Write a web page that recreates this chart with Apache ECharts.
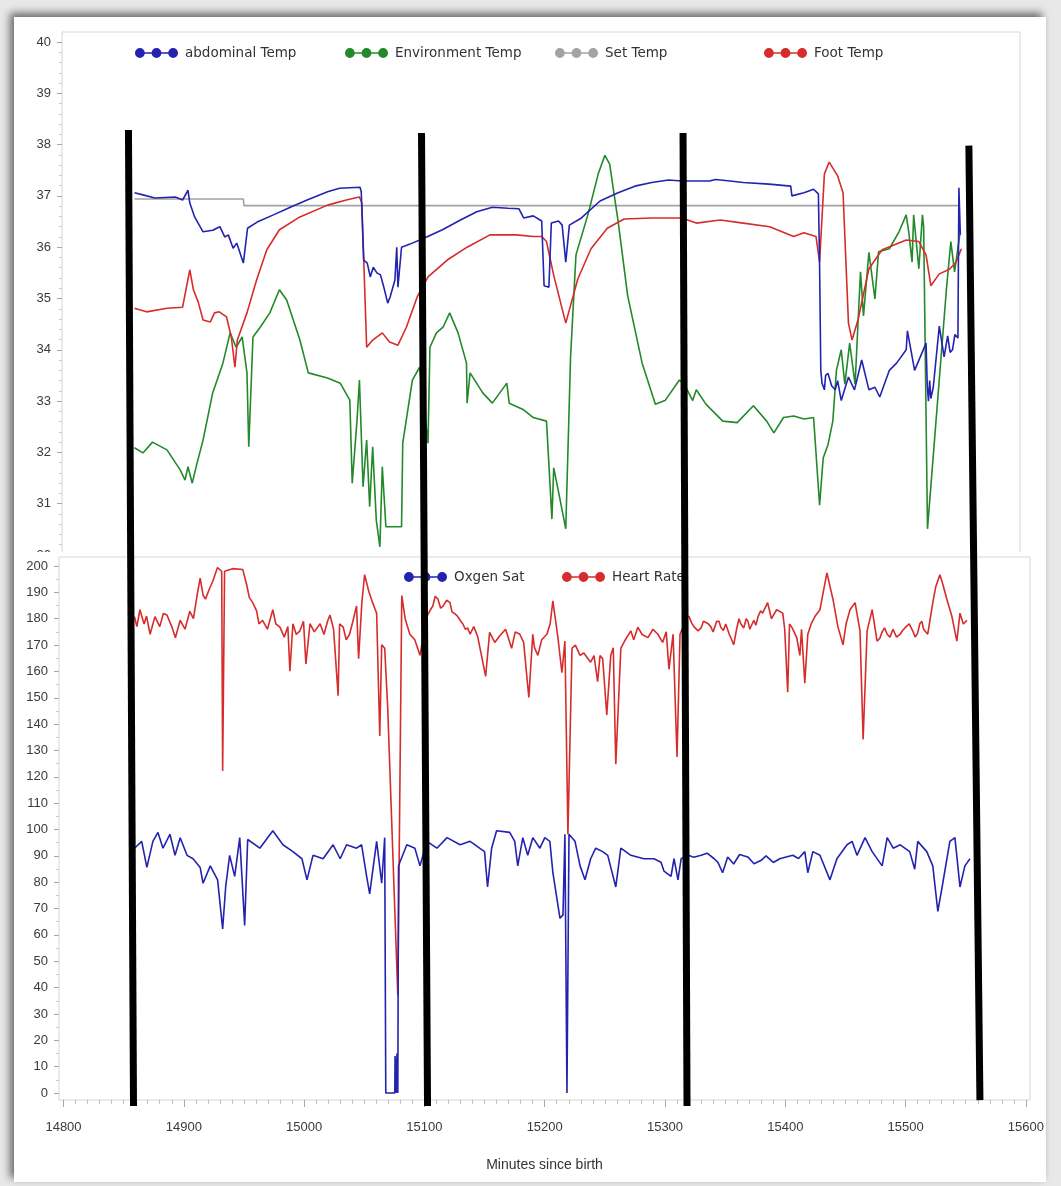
<!DOCTYPE html>
<html>
<head>
<meta charset="utf-8">
<title>Temperatures, oxygen saturation and heart rate</title>
<script src="https://cdn.jsdelivr.net/npm/echarts@6/dist/echarts.min.js"></script>
<style>
  html, body { margin: 0; padding: 0; background: #e6e6e6; }
  #chart { width: 1061px; height: 1186px; }
</style>
</head>
<body>
<div id="chart"></div>
<script>
// ---- readings: [minutes since birth, value] ----
const abdominalTemp = [
  [14859,37.06],[14866,37.02],[14876,36.96],[14893,36.98],[14899,36.92],[14903.5,37.11],[14905,36.86],
  [14909,36.59],[14916,36.30],[14924,36.33],[14930,36.40],[14934,36.20],[14937,36.24],[14941,35.98],
  [14944,36.08],[14949.5,35.69],[14953,36.37],[14961,36.49],[14974.5,36.63],[14988.5,36.78],[15002.5,36.92],
  [15019.5,37.08],[15029.5,37.15],[15046.5,37.17],[15047.5,37.08],[15049.5,35.75],[15052.5,35.69],[15055,35.42],
  [15057.5,35.61],[15060.5,35.50],[15063.5,35.46],[15066.5,35.20],[15069.5,34.91],[15071.5,35.03],[15075.5,35.36],
  [15077,36.0],[15078,35.22],[15081,36.0],[15088,36.06],[15100,36.18],[15115,36.34],[15130,36.53],
  [15143.5,36.69],[15156.5,36.78],[15169.5,36.76],[15178.5,36.75],[15182.5,36.57],[15190.5,36.61],[15197.5,36.51],
  [15199.5,35.25],[15203.5,35.22],[15205.5,36.47],[15211.5,36.51],[15214.5,36.43],[15217.5,35.71],[15220.5,36.43],
  [15230.5,36.57],[15246,36.90],[15261,37.06],[15275,37.19],[15289,37.26],[15303,37.31],[15314,37.29],
  [15337,37.29],[15342,37.32],[15354,37.29],[15365,37.26],[15386.5,37.23],[15404.5,37.19],[15405.5,37.0],
  [15415.5,37.06],[15423.5,37.13],[15427.5,37.04],[15428.5,35.65],[15429.5,33.6],[15430.5,33.35],[15432.5,33.22],
  [15433.5,33.5],[15435.5,33.54],[15438.5,33.3],[15441.5,33.22],[15443.5,33.4],[15446.5,33.01],[15452.5,33.47],
  [15457.5,33.22],[15463.5,33.8],[15469.5,33.22],[15474.5,33.27],[15478.5,33.08],[15486.5,33.6],[15492.5,33.74],
  [15500.5,34.0],[15501.5,34.37],[15507.5,33.6],[15517,34.13],[15518,33.3],[15519,33.0],[15520,33.4],
  [15521,33.05],[15523,33.27],[15528,34.46],[15532,33.86],[15535,34.27],[15537,33.95],[15539,34.0],
  [15541,34.3],[15543.5,34.23],[15544.3,37.16],[15545.5,36.24]
];
const environmentTemp = [
  [14859,32.09],[14866,31.99],[14874,32.2],[14886,32.05],[14897,31.66],[14901,31.46],[14903.5,31.72],
  [14907,31.40],[14911,31.79],[14916,32.24],[14924,33.16],[14932.5,33.74],[14938.5,34.33],[14943.5,34.05],
  [14948.5,34.25],[14952.5,33.55],[14954,32.11],[14957.5,34.25],[14963.5,34.44],[14971.5,34.72],[14979.5,35.17],
  [14985.5,34.97],[14996.5,34.19],[15003.5,33.55],[15019.5,33.45],[15030,33.35],[15038,33.02],[15040,31.40],
  [15044,32.63],[15046,33.41],[15049,31.33],[15052,32.24],[15054.5,30.94],[15057,32.11],[15060,30.68],
  [15063,30.16],[15065,31.72],[15068,30.55],[15081,30.55],[15082,32.18],[15090,33.41],[15096,33.66],
  [15103,32.18],[15104.6,34.05],[15110,34.33],[15115.5,34.44],[15121,34.72],[15128,34.33],[15135,33.74],
  [15135.5,32.96],[15138,33.55],[15148.5,33.16],[15156.5,32.96],[15168.5,33.35],[15170.5,32.96],[15182.5,32.83],
  [15190.5,32.68],[15201.5,32.61],[15206,30.70],[15207.5,31.70],[15211.5,31.23],[15217.5,30.51],[15221.5,33.86],
  [15226,35.85],[15236,36.64],[15244.5,37.43],[15250,37.79],[15254,37.62],[15261,36.51],
  [15269,35.05],[15281,33.74],[15292,32.94],[15300,33.01],[15312,33.41],[15316,33.33],[15323,33.01],
  [15326,33.22],[15334,32.94],[15348,32.61],[15360,32.58],[15373.5,32.91],[15384.5,32.61],[15390.5,32.38],
  [15398.5,32.68],[15407,32.71],[15415.5,32.65],[15423.5,32.68],[15428.5,30.97],[15431.5,31.89],[15435.5,32.15],
  [15439.5,32.61],[15442.5,33.6],[15446.5,34.0],[15449.5,33.33],[15453.5,34.13],[15458,33.33],[15462.5,35.52],
  [15465,34.66],[15469.5,35.9],[15474.5,34.99],[15477.5,35.91],[15486.5,35.97],[15494.5,36.30],[15500.5,36.63],
  [15502.6,36.30],[15505.4,35.71],[15506.7,36.63],[15511,35.58],[15514,36.63],[15515,36.4],
  [15518.2,30.51],[15534,35.2],[15537.6,36.11],[15540.7,35.52],[15545,36.24]
];
const setTemp = [
  [14859,36.94],[14949.5,36.94],[14950,36.81],[15545,36.81]
];
const footTemp = [
  [14859,34.81],[14869,34.74],[14886,34.81],[14899,34.83],[14905,35.56],[14908,35.17],[14912,34.93],
  [14916,34.58],[14922,34.54],[14925.5,34.72],[14929.5,34.74],[14935.5,34.64],[14939.5,34.25],[14942.5,33.66],
  [14944.5,34.19],[14952.5,34.72],[14960.5,35.36],[14969,35.95],[14979.5,36.34],[14996.5,36.59],[15019.5,36.82],
  [15035,36.92],[15046,36.98],[15048,36.86],[15052,34.05],[15057,34.19],[15065,34.33],[15071,34.15],
  [15078,34.09],[15085,34.44],[15094,35.03],[15103,35.42],[15119,35.75],[15135.5,36.0],[15154.5,36.24],
  [15176.5,36.24],[15190.5,36.21],[15197.5,36.21],[15201.5,36.11],[15207.5,35.45],[15217.5,34.52],[15227.5,35.38],
  [15238.5,35.97],[15252,36.37],[15266,36.55],[15289,36.57],[15314,36.57],[15326,36.47],[15346,36.53],
  [15365,36.47],[15387,36.40],[15407,36.21],[15415.5,36.28],[15425.5,36.21],[15428.5,35.71],
  [15432.5,37.43],[15436.5,37.66],[15443.5,37.39],[15448,37.06],[15452.5,34.52],[15455.5,34.19],[15460.5,34.59],
  [15469.5,35.58],[15480.5,35.95],[15500.5,36.14],[15511,36.11],[15517,35.85],[15521,35.25],[15528,35.48],
  [15536.5,35.57],[15542,35.71],[15546.4,35.97]
];
const oxygenSat = [
  [14859,92.9],[14865,95.5],[14869.3,85.6],[14874.3,95.5],[14878.5,98.9],[14882.7,92.9],[14888.5,98.2],
  [14892.7,90.2],[14897,96.9],[14902.7,90.2],[14907.7,88.9],[14913.6,85.6],[14916,79.6],[14922,86.2],
  [14928.1,80.9],[14932.3,62.3],[14934.8,78.2],[14938.1,90.2],[14942.3,82.2],[14946.5,96.9],[14950.6,63.6],
  [14953.1,96.2],[14963.2,92.9],[14974,99.5],[14982.4,94.2],[14990.7,91.6],[14998.2,88.9],
  [15002.4,80.9],[15007.4,90.2],[15015.8,88.9],[15024.1,94.2],[15030,88.9],[15035.3,94.2],
  [15043.6,92.9],[15047.8,94.2],[15052,82.2],[15054.5,75.6],[15060.3,95.5],[15064.5,79.6],[15067,96.9],
  [15067.9,0],[15075.4,0],[15075.6,14],[15076.5,0],[15077.2,15],[15077.9,0],[15078.5,86.2],
  [15079.6,87.6],[15085.4,94.2],[15092.1,92.9],[15096.3,86.2],[15102.1,95.5],[15110.4,92.9],
  [15118.8,96.9],[15129.7,94.2],[15138,95.5],[15145.9,92.9],[15150,91.6],[15152.5,78.2],[15155.9,92.9],
  [15160,99.5],[15170.9,98.9],[15175.1,95.5],[15177.6,86.2],[15181.8,96.9],[15185.9,90.2],
  [15190.1,96.9],[15196,92.9],[15200.1,96.9],[15204.3,95.5],[15206.8,83.6],[15212.7,66.3],
  [15215.2,67.6],[15216.8,98.2],[15218.5,0],[15220.2,98.2],[15225.2,95.5],[15229.4,86.2],[15233.5,80.9],
  [15238.2,88.9],[15242.4,92.9],[15248.2,91.6],[15252.4,90.2],[15259.1,78.2],[15263.3,92.9],
  [15271.6,90.2],[15282.5,88.9],[15290.8,88.9],[15296.7,87.6],[15299.2,84.2],[15305,82.2],
  [15307.5,88.9],[15310.8,80.9],[15313.4,88.9],[15319.2,90.2],[15324,89.5],[15330,90.2],[15335,91],
  [15340.9,88.9],[15344,87.5],[15347.9,83.6],[15352.1,89.6],[15357.1,86.9],[15362,90.5],[15368.8,89.6],
  [15374,87],[15379.7,88.2],[15384,90],[15390,87.5],[15395.4,88.9],[15400,89.5],
  [15406.2,90.2],[15411,89],[15416.2,91.6],[15418.7,83.6],[15422.9,91.6],[15428.8,90.2],[15437.1,80.9],
  [15442.9,88.9],[15451.3,94.2],[15455.5,95.5],[15459.6,90.2],[15466.3,96.9],[15472.2,91.6],[15480.5,86.2],
  [15484.7,96.9],[15489.7,92.9],[15495.5,94.2],[15503.4,91.6],[15507.6,84.9],[15510.1,95.5],
  [15517.6,91.6],[15522.6,86.2],[15526.8,68.9],[15530.9,79.6],[15536.8,95.5],[15541,96.9],
  [15545.2,78.2],[15549.3,86.2],[15553.5,88.9]
];
const heartRate = [
  [14859,180.8],[14861,177],[14863.5,183.4],[14867,178],[14869,181],[14872,174.1],[14876,180.8],
  [14880,177],[14883,182],[14886,181.4],[14890,177],[14893,172.8],[14897,179.4],[14901,176],
  [14905,182.8],[14908,180],[14911,188.8],[14913.6,195.4],[14916,189],[14918,187.4],[14921,191],
  [14924,194.1],[14928,199.4],[14931.5,198],[14932.3,122.2],[14933.9,198],[14940.5,199],[14949,198.7],
  [14952.3,192.8],[14954.5,188],[14957.3,186.1],[14960.5,183],[14962.5,178],[14965.5,179.4],[14969.5,176],
  [14974,183.4],[14976.5,178],[14979.9,176.8],[14983.5,173],[14986.5,177],[14988.2,160.1],[14990.7,178.1],
  [14993.5,174],[14996.5,175.4],[14999.5,179],[15001.5,162.8],[15004.9,178.1],[15008.5,175],[15013.3,178.1],
  [15016.5,174],[15019.5,179],[15021.5,181.4],[15024.5,176],[15028.3,150.8],[15029.5,178],[15032.5,176.8],
  [15035,172],[15037.8,174.1],[15040,178],[15043.6,184.8],[15045.3,164.8],[15048,186],[15050.3,196.7],
  [15054,190],[15057,186],[15060.3,182.1],[15062.9,135.5],[15064.5,170.1],[15067,168.8],
  [15069.5,146.2],[15077.9,37],[15081.2,188.8],[15084,180],[15087.9,174.1],[15092,172],
  [15096.3,166.1],[15102,180.8],[15104.5,183],[15107,184.8],[15109,188.5],[15111.3,187.4],[15113.5,184],
  [15115.5,184.8],[15118.5,187],[15121.3,186.1],[15123,182.5],[15125,182],[15127.5,181],[15129.7,179.4],
  [15132,178],[15134,176],[15136,176.5],[15138,174.1],[15141,177],[15144.2,173.4],[15150.9,158.1],
  [15154.2,174.8],[15158.5,171],[15162.5,173.4],[15167.5,176],[15172.5,168.8],[15175.5,175],[15179.3,174.1],
  [15182.5,171],[15186.8,150.1],[15190.1,174.1],[15191.5,169],[15194.3,166.1],[15197.5,172],[15201.8,174.1],
  [15204.5,178],[15206.8,186.8],[15211,172.8],[15214.3,159.5],[15216.8,171.5],[15219.3,98.2],
  [15222.7,168.8],[15225.5,170],[15229.4,166.1],[15232.5,167],[15238.2,163.5],[15241,166],[15244,156.1],
  [15246,166],[15248.2,164.8],[15251.6,143.5],[15254.9,166.1],[15257,169],[15259.1,124.8],
  [15263.3,168.8],[15267,172],[15271.6,175.4],[15274,172],[15277.4,176.8],[15281,174],[15285.8,172.8],
  [15290,176],[15294.1,174.1],[15298,171],[15301,175],[15303.3,160.8],[15306.7,174.1],[15310,127.5],
  [15312.5,174.1],[15316,178],[15318,181],[15320,180.8],[15322,178.5],[15324,177],[15327.5,175.4],
  [15330,176.5],[15332,179],[15335.9,178.1],[15338,177],[15340,175],[15343,179],[15345,179],
  [15346.3,176.8],[15348.5,175.5],[15350.5,178],[15353.5,174],[15355,172.5],[15357.1,170.1],[15359.5,176],
  [15361.5,180],[15363,178.1],[15365.5,176.5],[15367.5,180],[15369,179],[15370.5,176],[15373.8,179.4],
  [15375.5,177.5],[15377.5,181],[15379.5,183],[15381.2,182.1],[15385.3,186.1],
  [15388.5,180],[15392.8,183.4],[15397.9,182.1],[15399.5,176],[15402,152.1],[15403.5,178],[15405.4,176.8],
  [15409.5,172.8],[15412.1,166.1],[15413.5,176],[15416.2,155.5],[15418.7,174.1],[15421.5,178],
  [15424.6,180.8],[15428.8,183.4],[15431.5,190],[15434.6,197.4],[15439.6,187.4],[15443.8,176.8],
  [15448,170.1],[15450.5,178],[15453.8,183.4],[15458,186.1],[15462.1,175.4],[15464.7,134.2],
  [15468,175.4],[15472.2,183.4],[15476.3,171.5],[15478.5,172.5],[15480.5,175],[15482.5,176.5],
  [15484.7,174.1],[15487,173],[15489.5,176],[15492.5,173],[15495.5,174.1],[15497.5,175.5],[15500.5,177],
  [15503,178],[15505.9,175.4],[15508,173],[15510,174.5],[15511.8,178.1],[15513.5,179],[15515,176],
  [15516.5,176.5],[15518.4,174.1],[15522.6,186.1],[15525,192],[15528.5,196.7],[15531,193],[15534.3,187.4],
  [15538.5,180.8],[15542.6,171.5],[15545.2,182.1],[15548,178],[15551,179.4]
];

// hand-drawn event markers: [minute at lower end, minute at upper end, lower end, upper end]
// (ends given as a fraction of the marker band height)
const eventMarkers = [
  [14858.2, 14854.0, 0.000, 1.000],
  [15102.6, 15097.6, 0.000, 0.997],
  [15318.3, 15315.0, 0.000, 0.997],
  [15561.8, 15552.6, 0.006, 0.984]
];

// axis labels
const tempTicks = [30, 31, 32, 33, 34, 35, 36, 37, 38, 39, 40];
const satTicks = [0,10,20,30,40,50,60,70,80,90,100,110,120,130,140,150,160,170,180,190,200];
const minuteTicks = [14800, 14900, 15000, 15100, 15200, 15300, 15400, 15500, 15600];

// ---- layout ----
const PX_PER_MIN = 1.203;         // horizontal scale shared by both panels
const X0_PX = 63.5;               // where minute 14800 sits
const TOP = { left: 62, top: 32, right: 1020, bottom: 560 };
const BOT = { left: 59, top: 557, right: 1030, bottom: 1100 };
const TEMP_PX = 51.3, TEMP40_PX = 42;    // px per degree, px of 40 degrees
const SAT_PX = 2.635, SAT200_PX = 566;   // px per unit, px of 200
const MARK_TOP = 130, MARK_BOTTOM = 1106; // vertical band of the event markers

const minAt = px => 14800 + (px - X0_PX) / PX_PER_MIN;
const tempAt = px => 40 - (px - TEMP40_PX) / TEMP_PX;
const satAt = px => 200 - (px - SAT200_PX) / SAT_PX;

const minorMinutes = [];
for (let m = 14800; m <= 15600; m += 10) if (m % 100) minorMinutes.push(m);
const minorTemps = [];
for (let t = 300; t <= 400; t += 2) if (t % 10) minorTemps.push(t / 10);
const minorSats = [];
for (let s = 5; s <= 200; s += 10) minorSats.push(s);

const FONT = "'Liberation Sans', Arial, sans-serif";
const LEGEND_FONT = "'DejaVu Sans', 'Liberation Sans', sans-serif";
const C_BLUE = '#2323b0', C_GREEN = '#23892a', C_GRAY = '#a3a3a3', C_RED = '#d62c2c';
const LABEL_COLOR = '#3a3a3a';
const FRAME = '#d6d6d6';
const TICK = '#a8a8a8';

// legend glyph: three dots joined by a line
const DOTS = 'path://M0,5A5,5 0 1,1 10,5A5,5 0 1,1 0,5Z M8,4.2L20,4.2L20,5.8L8,5.8Z M17,5A5,5 0 1,1 27,5A5,5 0 1,1 17,5Z M25,4.2L36,4.2L36,5.8L25,5.8Z M34,5A5,5 0 1,1 44,5A5,5 0 1,1 34,5Z';

function legendAt(name, left, centerY) {
  return {
    data: [name], left: left, top: centerY - 6, icon: DOTS, itemWidth: 43, itemHeight: 10,
    selectedMode: false, padding: 0,
    textStyle: { fontFamily: LEGEND_FONT, fontSize: 13.5, color: '#333', padding: [0, 0, 0, 2] }
  };
}

function lineSeries(name, data, color, xi, yi, z) {
  return {
    type: 'line', name: name, data: data, xAxisIndex: xi, yAxisIndex: yi,
    showSymbol: false, symbol: 'circle', symbolSize: 6, z: z, silent: true,
    itemStyle: { color: color }, lineStyle: { color: color, width: 1.6 },
    animation: false
  };
}

const markerSeries = eventMarkers.map(m => ({
  type: 'line', xAxisIndex: 3, yAxisIndex: 4, showSymbol: false, silent: true, z: 20,
  data: [[m[0], m[2]], [m[1], m[3]]],
  lineStyle: { color: '#000', width: 7, cap: 'butt' }, animation: false
}));

const yBase = { type: 'value', axisLine: { show: false, onZero: false }, splitLine: { show: false }, position: 'left' };
const xBase = { type: 'value', axisLine: { show: false, onZero: false }, splitLine: { show: false }, position: 'bottom' };

const chart = echarts.init(document.getElementById('chart'), null, { renderer: 'canvas' });

chart.setOption({
  backgroundColor: '#e8e8e8',
  animation: false,
  graphic: [
    { type: 'rect', z: -20, silent: true,
      shape: { x: 14, y: 17, width: 1032, height: 1165 },
      style: { fill: '#ffffff', shadowBlur: 8, shadowColor: 'rgba(0,0,0,0.55)', shadowOffsetX: -4, shadowOffsetY: -4 } },
    // lower panel sheet laid over the foot of the upper one
    { type: 'rect', z: 1, silent: true,
      shape: { x: 18, y: 552, width: 1026, height: 1178 - 552 },
      style: { fill: '#ffffff' } }
  ],
  grid: [
    { left: TOP.left, top: TOP.top, width: TOP.right - TOP.left, height: TOP.bottom - TOP.top,
      show: true, borderColor: FRAME, borderWidth: 1, backgroundColor: 'transparent', z: 0 },
    { left: BOT.left, top: BOT.top, width: BOT.right - BOT.left, height: BOT.bottom - BOT.top,
      show: true, borderColor: FRAME, borderWidth: 1, backgroundColor: 'transparent', z: 3 },
    { left: BOT.left, top: MARK_TOP, width: BOT.right - BOT.left, height: MARK_BOTTOM - MARK_TOP, show: false }
  ],
  legend: [
    legendAt('abdominal Temp', 135, 52),
    legendAt('Environment Temp', 345, 52),
    legendAt('Set Temp', 555, 52),
    legendAt('Foot Temp', 764, 52),
    Object.assign(legendAt('Oxgen Sat', 404, 576), { z: 5 }),
    Object.assign(legendAt('Heart Rate', 562, 576), { z: 5 })
  ],
  xAxis: [
    Object.assign({}, xBase, { gridIndex: 0, min: minAt(TOP.left), max: minAt(TOP.right), show: false }),
    Object.assign({}, xBase, { gridIndex: 1, min: minAt(BOT.left), max: minAt(BOT.right), z: 4,
      name: 'Minutes since birth', nameLocation: 'middle', nameGap: 58,
      nameTextStyle: { fontFamily: FONT, fontSize: 14, color: '#333' },
      axisTick: { show: true, length: 7, lineStyle: { color: TICK }, customValues: minuteTicks },
      axisLabel: { fontFamily: FONT, fontSize: 13, color: LABEL_COLOR, margin: 21, customValues: minuteTicks,
        formatter: v => String(v) } }),
    Object.assign({}, xBase, { gridIndex: 1, min: minAt(BOT.left), max: minAt(BOT.right), z: 4,
      axisLabel: { show: false },
      axisTick: { show: true, length: 4, lineStyle: { color: '#c0c0c0' }, customValues: minorMinutes } }),
    Object.assign({}, xBase, { gridIndex: 2, min: minAt(BOT.left), max: minAt(BOT.right), show: false })
  ],
  yAxis: [
    Object.assign({}, yBase, { gridIndex: 0, z: 0, min: tempAt(TOP.bottom), max: tempAt(TOP.top),
      axisTick: { show: true, length: 5, lineStyle: { color: TICK }, customValues: tempTicks },
      axisLabel: { fontFamily: FONT, fontSize: 13, color: LABEL_COLOR, margin: 11, customValues: tempTicks,
        formatter: v => String(v) } }),
    Object.assign({}, yBase, { gridIndex: 0, z: 0, min: tempAt(TOP.bottom), max: tempAt(TOP.top),
      axisLabel: { show: false },
      axisTick: { show: true, length: 3, lineStyle: { color: '#c8c8c8' }, customValues: minorTemps } }),
    Object.assign({}, yBase, { gridIndex: 1, z: 4, min: satAt(BOT.bottom), max: satAt(BOT.top),
      axisTick: { show: true, length: 5, lineStyle: { color: TICK }, customValues: satTicks },
      axisLabel: { fontFamily: FONT, fontSize: 13, color: LABEL_COLOR, margin: 11, customValues: satTicks,
        formatter: v => String(v) } }),
    Object.assign({}, yBase, { gridIndex: 1, z: 4, min: satAt(BOT.bottom), max: satAt(BOT.top),
      axisLabel: { show: false },
      axisTick: { show: true, length: 3, lineStyle: { color: '#c8c8c8' }, customValues: minorSats } }),
    Object.assign({}, yBase, { gridIndex: 2, min: 0, max: 1, show: false })
  ],
  series: [
    lineSeries('Set Temp', setTemp, C_GRAY, 0, 0, 2),
    lineSeries('Environment Temp', environmentTemp, C_GREEN, 0, 0, 2),
    lineSeries('Foot Temp', footTemp, C_RED, 0, 0, 2),
    lineSeries('abdominal Temp', abdominalTemp, C_BLUE, 0, 0, 2),
    lineSeries('Heart Rate', heartRate, C_RED, 1, 2, 6),
    lineSeries('Oxgen Sat', oxygenSat, C_BLUE, 1, 2, 6)
  ].concat(markerSeries)
});
</script>
</body>
</html>
